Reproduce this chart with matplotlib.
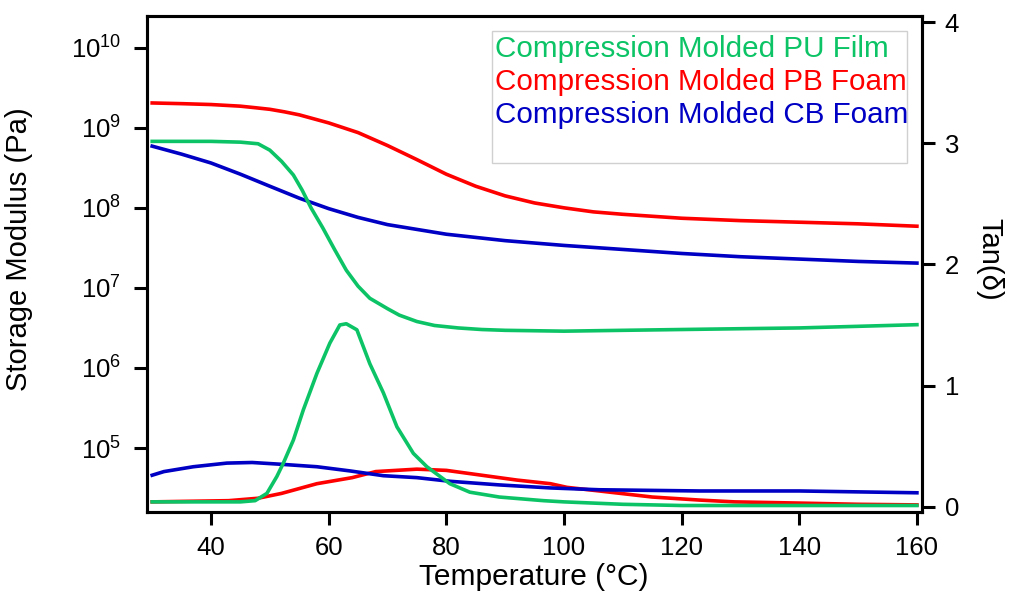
import matplotlib
matplotlib.use('Agg')
import matplotlib.pyplot as plt
from matplotlib.patches import Rectangle
from matplotlib.ticker import FixedLocator, NullLocator

plt.rcParams['font.family'] = ['Liberation Sans', 'DejaVu Sans']
plt.rcParams['mathtext.fontset'] = 'custom'
plt.rcParams['mathtext.rm'] = 'Liberation Sans'
plt.rcParams['mathtext.it'] = 'Liberation Sans:italic'
plt.rcParams['mathtext.bf'] = 'Liberation Sans:bold'

GREEN, RED, BLUE = '#0CC466', '#FF0000', '#0000C4'

# storage modulus (Pa)
t_pb_e = [30, 35, 40, 45, 47.5, 50, 52.5, 55, 60, 65, 70, 75, 80, 85, 90, 95, 100, 105, 110, 120,
          130, 140, 150, 160]
pb_e = [2.04e9, 2.0e9, 1.95e9, 1.86e9, 1.78e9, 1.70e9, 1.58e9, 1.45e9, 1.15e9, 8.7e8, 6.0e8,
        4.0e8, 2.63e8, 1.86e8, 1.41e8, 1.15e8, 1.0e8, 8.9e7, 8.3e7, 7.41e7, 6.92e7, 6.61e7,
        6.31e7, 5.89e7]
t_cb_e = [30, 35, 40, 45, 50, 55, 60, 65, 70, 80, 90, 100, 110, 120, 130, 140, 150, 160]
cb_e = [5.89e8, 4.68e8, 3.63e8, 2.63e8, 1.86e8, 1.32e8, 9.77e7, 7.59e7, 6.17e7, 4.68e7, 3.89e7,
        3.39e7, 3.02e7, 2.69e7, 2.45e7, 2.29e7, 2.14e7, 2.04e7]
t_pu_e = [30, 40, 45, 48, 50, 52, 54, 55.5, 57, 59, 61, 63, 65, 67, 70, 72, 75, 78, 82, 86, 90,
          100, 110, 120, 130, 140, 150, 160]
pu_e = [6.76e8, 6.76e8, 6.61e8, 6.31e8, 5.25e8, 3.80e8, 2.57e8, 1.66e8, 1.0e8, 5.62e7, 3.02e7,
        1.66e7, 1.05e7, 7.41e6, 5.50e6, 4.57e6, 3.80e6, 3.39e6, 3.16e6, 3.02e6, 2.95e6,
        2.88e6, 2.95e6, 3.02e6, 3.09e6, 3.16e6, 3.31e6, 3.47e6]

# tan(delta)
t_pu_t = [30, 45, 47.5, 49.5, 51.2, 52.3, 54, 55.7, 58, 60.2, 61.9, 63, 64.8, 67, 69.3, 71.6,
          74.4, 76.7, 80.6, 84, 89, 96.5, 100, 110, 120, 140, 160]
pu_t = [0.04, 0.04, 0.05, 0.11, 0.25, 0.36, 0.55, 0.80, 1.10, 1.35, 1.50, 1.51, 1.46, 1.18, 0.94,
        0.66, 0.44, 0.33, 0.19, 0.12, 0.08, 0.05, 0.04, 0.02, 0.01, 0.01, 0.01]
t_pb_t = [30, 43, 48, 52, 58, 64, 68, 75, 80, 86, 92, 97.7, 100.5, 106, 115, 123, 129, 140, 150, 160]
pb_t = [0.04, 0.05, 0.07, 0.11, 0.19, 0.24, 0.29, 0.31, 0.30, 0.26, 0.22, 0.19, 0.16, 0.13, 0.08,
        0.055, 0.04, 0.03, 0.02, 0.015]
t_cb_t = [30, 32, 37, 42.7, 47, 52, 58, 63.7, 69.3, 75, 80.6, 89, 97.7, 106, 123, 140, 160]
cb_t = [0.26, 0.29, 0.33, 0.36, 0.365, 0.35, 0.33, 0.295, 0.256, 0.24, 0.21, 0.18, 0.155, 0.14,
        0.13, 0.13, 0.115]

labels = ['Compression Molded PU Film', 'Compression Molded PB Foam', 'Compression Molded CB Foam']

fig = plt.figure(figsize=(10.09, 6.01), dpi=100)
ax = fig.add_axes([0.1454, 0.148, 0.768, 0.8254])
ax2 = ax.twinx()

lw = 2.6
ax.plot(t_pb_e, pb_e, color=RED, lw=lw)
ax.plot(t_cb_e, cb_e, color=BLUE, lw=lw)
ax.plot(t_pu_e, pu_e, color=GREEN, lw=lw)
ax2.plot(t_pb_t, pb_t, color=RED, lw=lw)
ax2.plot(t_cb_t, cb_t, color=BLUE, lw=lw)
ax2.plot(t_pu_t, pu_t, color=GREEN, lw=lw)

ax.set_yscale('log')
ax.set_ylim(10**4.2, 10**10.396)
ax.set_xlim(29.07, 160.8)
ax2.set_ylim(-0.044, 4.05)
ax.yaxis.set_major_locator(FixedLocator([1e5, 1e6, 1e7, 1e8, 1e9, 1e10]))
ax.yaxis.set_minor_locator(NullLocator())
ax.set_xticks([40, 60, 80, 100, 120, 140, 160])
ax2.set_yticks([0, 1, 2, 3, 4])

for a in (ax, ax2):
    for s in a.spines.values():
        s.set_linewidth(2.2)
ax.tick_params(axis='both', direction='out', length=9.5, width=2.2, labelsize=18.5)
ax.tick_params(axis='y', pad=9)
ax.tick_params(axis='x', pad=8)
ax2.tick_params(axis='y', direction='out', length=9.5, width=2.2, labelsize=18.5, pad=7)

ax.set_xlabel('Temperature (°C)', fontsize=21.5, labelpad=2)
ax.set_ylabel('Storage Modulus (Pa)', fontsize=21)
ax.yaxis.set_label_coords(-0.147, 0.53)
ax2.set_ylabel('Tan(δ)', fontsize=21, rotation=270)
ax2.yaxis.set_label_coords(1.106, 0.51)

# legend box with coloured text only
ax.add_patch(Rectangle((0.4457, 0.7036), 0.5356, 0.2662, transform=ax.transAxes,
                       facecolor='white', edgecolor='#D0D0D0', lw=1.0, zorder=5))
for lab, col, yb in zip(labels, [GREEN, RED, BLUE], [0.9167, 0.8508, 0.7836]):
    ax.text(0.449, yb, lab, color=col, fontsize=21.3, transform=ax.transAxes,
            ha='left', va='baseline', zorder=6)

fig.savefig('out.png', dpi=100)
